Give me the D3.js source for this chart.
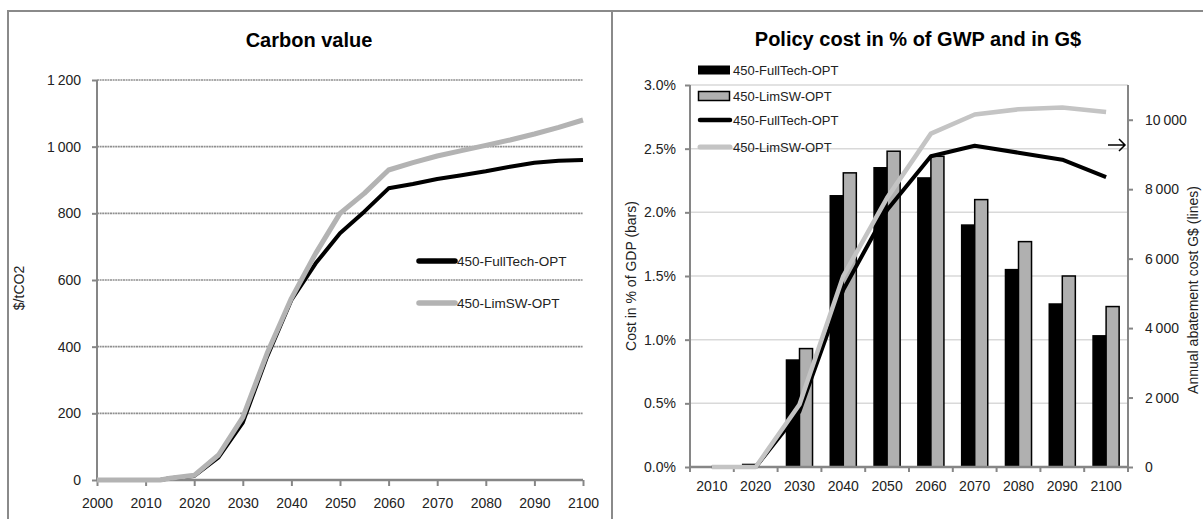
<!DOCTYPE html>
<html><head><meta charset="utf-8">
<script src="https://cdn.jsdelivr.net/npm/d3@7"></script>
<style>
html,body{margin:0;padding:0;background:#fff;}
svg{display:block;font-family:"Liberation Sans",Arial,sans-serif;}
</style></head>
<body>
<svg id="c" width="1203" height="519"></svg>
<script>
// ---------- DATA ----------
// Left panel: Carbon value ($/tCO2)
const cvYears = [2000,2005,2010,2013,2015,2020,2025,2030,2035,2040,2045,2050,2055,2060,2065,2070,2075,2080,2085,2090,2095,2100];
const cvFullTech = [0,0,0,0,5,12,68,172,370,540,650,740,805,875,888,903,914,926,940,952,958,960];
const cvLimSW    = [0,0,0,0,5,14,75,188,380,545,680,800,860,930,952,972,988,1004,1020,1038,1058,1080];
const cvYTicks = [0,200,400,600,800,1000,1200];
const cvXTicks = [2000,2010,2020,2030,2040,2050,2060,2070,2080,2090,2100];

// Right panel: Policy cost
const pcYears = ["2010","2020","2030","2040","2050","2060","2070","2080","2090","2100"];
const pctFullTech = [0,0.02,0.84,2.13,2.35,2.27,1.90,1.55,1.28,1.03];
const pctLimSW    = [0,0,0.93,2.31,2.48,2.44,2.10,1.77,1.50,1.26];
const gdFullTech  = [0,0,1600,5100,7400,8950,9250,9050,8850,8350];
const gdLimSW     = [0,0,1800,5500,7750,9600,10150,10300,10350,10220];
const pctTicks = [0,0.5,1.0,1.5,2.0,2.5,3.0];
const gdTicks = [0,2000,4000,6000,8000,10000];

const seriesNames = ["450-FullTech-OPT","450-LimSW-OPT"];

// ---------- HELPERS ----------
const svg = d3.select("#c");
const fmtThousands = v => { const s = String(v); return s.length > 3 ? s.slice(0, s.length-3) + "\u2009" + s.slice(-3) : s; };
const axisGray = "#868686";
const BLACK = "#000";
const GRAY_L = "#b3b3b3";
const GRAY_R = "#c4c4c4";
const BAR_GRAY = "#b0b0b0";

// Panel borders
svg.append("path").attr("d","M8,519 V11 H1203").attr("fill","none").attr("stroke","#8a8a8a").attr("stroke-width",2);
svg.append("line").attr("x1",612).attr("x2",612).attr("y1",11).attr("y2",519).attr("stroke","#8a8a8a").attr("stroke-width",2);

// ---------- LEFT PANEL ----------
{
  const x = d3.scaleLinear().domain([2000,2100]).range([97,583]);
  const y = d3.scaleLinear().domain([0,1200]).range([480,80]);
  const g = svg.append("g");

  g.append("text").attr("x",309).attr("y",47).attr("text-anchor","middle")
    .attr("font-size",20).attr("font-weight","bold").text("Carbon value");

  // gridlines
  g.selectAll("line.grid").data(cvYTicks.filter(d=>d>0)).join("line")
    .attr("x1",x(2000)).attr("x2",x(2100)).attr("y1",d=>y(d)).attr("y2",d=>y(d))
    .attr("stroke","#8f8f8f").attr("stroke-width",1.6).attr("stroke-dasharray","2,0.6");

  // y axis
  const ya = g.append("g").attr("transform",`translate(${x(2000)},0)`)
    .call(d3.axisLeft(y).tickValues(cvYTicks).tickSize(5).tickPadding(11).tickFormat(fmtThousands));
  ya.select(".domain").attr("stroke",axisGray).attr("stroke-width",2).attr("d",`M0,${y(0)}V${y(1200)}`);
  ya.selectAll(".tick line").attr("stroke",axisGray).attr("stroke-width",2);
  ya.selectAll("text").attr("font-size",14).attr("fill","#222").attr("font-family","Liberation Sans, Arial");

  // x axis
  const xa = g.append("g").attr("transform",`translate(0,${y(0)})`)
    .call(d3.axisBottom(x).tickValues(cvXTicks).tickSize(6).tickPadding(12).tickFormat(d3.format("d")));
  xa.select(".domain").attr("stroke",axisGray).attr("stroke-width",2.5).attr("d",`M${x(2000)},0H${x(2100)}`);
  xa.selectAll(".tick line").attr("stroke",axisGray).attr("stroke-width",2);
  xa.selectAll("text").attr("font-size",14).attr("fill","#222").attr("font-family","Liberation Sans, Arial");

  g.append("text").attr("transform","translate(24,288) rotate(-90)").attr("text-anchor","middle")
    .attr("font-size",14).attr("fill","#222").text("$/tCO2");

  const line = d3.line().x((d,i)=>x(cvYears[i])).y(d=>y(d)).curve(d3.curveLinear);
  g.append("path").attr("d",line(cvFullTech)).attr("fill","none").attr("stroke",BLACK).attr("stroke-width",4).attr("stroke-linejoin","round");
  g.append("path").attr("d",line(cvLimSW)).attr("fill","none").attr("stroke",GRAY_L).attr("stroke-width",5).attr("stroke-linejoin","round");

  // legend
  const lg = g.append("g");
  const ly = [261, 303];
  [BLACK, GRAY_L].forEach((c,i)=>{
    lg.append("line").attr("x1",419).attr("x2",455).attr("y1",ly[i]).attr("y2",ly[i]).attr("stroke",c).attr("stroke-width",5.5).attr("stroke-linecap","round");
    lg.append("text").attr("x",457).attr("y",ly[i]+5).attr("font-size",13.5).attr("fill","#222").text(seriesNames[i]);
  });
}

// ---------- RIGHT PANEL ----------
{
  const x = d3.scaleBand().domain(pcYears).range([690,1128]).padding(0);
  const yL = d3.scaleLinear().domain([0,3.0]).range([467,85]);
  const yR = d3.scaleLinear().domain([0,11000]).range([467,85]);
  const inner = d3.scaleBand().domain([0,1]).range([0,x.bandwidth()]).paddingInner(0).paddingOuter(0.68);
  const g = svg.append("g");

  g.append("text").attr("x",918).attr("y",46).attr("text-anchor","middle")
    .attr("font-size",20).attr("font-weight","bold").text("Policy cost in % of GWP and in G$");

  // gridlines
  g.selectAll("line.grid").data(pctTicks.filter(d=>d>0)).join("line")
    .attr("x1",690).attr("x2",1128).attr("y1",d=>yL(d)).attr("y2",d=>yL(d))
    .attr("stroke","#d9d9d9").attr("stroke-width",1.5);

  // bars
  const bars = g.append("g");
  [pctFullTech, pctLimSW].forEach((arr,s)=>{
    bars.selectAll(null).data(arr).join("rect")
      .attr("x",(d,i)=>x(pcYears[i]) + inner(s))
      .attr("width",inner.bandwidth())
      .attr("y",d=>yL(d))
      .attr("height",d=>Math.max(0, yL(0)-yL(d)))
      .attr("fill", s===0 ? BLACK : BAR_GRAY)
      .attr("stroke", BLACK).attr("stroke-width", d=> d>0 ? 1.5 : 0);
  });

  // left axis
  const ya = g.append("g").attr("transform","translate(690,0)")
    .call(d3.axisLeft(yL).tickValues(pctTicks).tickSize(5).tickPadding(9).tickFormat(d=>d.toFixed(1)+"%"));
  ya.select(".domain").attr("stroke",axisGray).attr("stroke-width",2).attr("d",`M0,${yL(0)}V${yL(3)}`);
  ya.selectAll(".tick line").attr("stroke",axisGray).attr("stroke-width",2);
  ya.selectAll("text").attr("font-size",14).attr("fill","#222").attr("font-family","Liberation Sans, Arial");

  // right axis
  const yb = g.append("g").attr("transform","translate(1128,0)")
    .call(d3.axisRight(yR).tickValues(gdTicks).tickSize(5).tickPadding(12).tickFormat(fmtThousands));
  yb.select(".domain").attr("stroke",axisGray).attr("stroke-width",2).attr("d",`M0,${yR(0)}V${yR(11000)}`);
  yb.selectAll(".tick line").attr("stroke",axisGray).attr("stroke-width",2);
  yb.selectAll("text").attr("font-size",14).attr("fill","#222").attr("font-family","Liberation Sans, Arial");

  // x axis
  const xa = g.append("g").attr("transform",`translate(0,${yL(0)})`)
    .call(d3.axisBottom(x).tickSize(0).tickPadding(14));
  xa.select(".domain").attr("stroke",axisGray).attr("stroke-width",2.5).attr("d","M690,0H1128");
  xa.selectAll("text").attr("font-size",14).attr("fill","#222").attr("font-family","Liberation Sans, Arial");
  xa.selectAll("line.bt").data(pcYears.concat(["end"])).join("line")
    .attr("x1",(d,i)=> i<pcYears.length ? x(d) : 1128).attr("x2",(d,i)=> i<pcYears.length ? x(d) : 1128)
    .attr("y1",0).attr("y2",5).attr("stroke",axisGray).attr("stroke-width",2);

  // lines
  const line = d3.line().x((d,i)=>x(pcYears[i]) + x.bandwidth()/2).y(d=>yR(d));
  g.append("path").attr("d",line(gdFullTech)).attr("fill","none").attr("stroke",BLACK).attr("stroke-width",4).attr("stroke-linejoin","round");
  g.append("path").attr("d",line(gdLimSW)).attr("fill","none").attr("stroke",GRAY_R).attr("stroke-width",4.5).attr("stroke-linejoin","round");

  // axis titles
  g.append("text").attr("transform","translate(636,276) rotate(-90)").attr("text-anchor","middle")
    .attr("font-size",14).attr("fill","#222").text("Cost in % of GDP (bars)");
  g.append("text").attr("transform","translate(1198,290) rotate(-90)").attr("text-anchor","middle")
    .attr("font-size",14).attr("fill","#222").text("Annual abatement cost G$ (lines)");

  // arrow
  g.append("path").attr("d","M1108,145H1125M1119,139L1125,145L1119,151")
    .attr("fill","none").attr("stroke","#000").attr("stroke-width",1.5);

  // legend
  const lg = g.append("g");
  const ly = [70, 96, 120, 147];
  lg.append("rect").attr("x",698).attr("y",ly[0]-4.5).attr("width",32).attr("height",9).attr("fill",BLACK);
  lg.append("rect").attr("x",698.5).attr("y",ly[1]-4.5).attr("width",31).attr("height",9).attr("fill",BAR_GRAY).attr("stroke",BLACK).attr("stroke-width",1.5);
  lg.append("line").attr("x1",700).attr("x2",730).attr("y1",ly[2]).attr("y2",ly[2]).attr("stroke",BLACK).attr("stroke-width",4.5).attr("stroke-linecap","round");
  lg.append("line").attr("x1",700).attr("x2",730).attr("y1",ly[3]).attr("y2",ly[3]).attr("stroke",GRAY_R).attr("stroke-width",5).attr("stroke-linecap","round");
  [0,1,0,1].forEach((s,i)=>{
    lg.append("text").attr("x",733).attr("y",ly[i]+5).attr("font-size",13).attr("fill","#222").text(seriesNames[s]);
  });
}
</script>
</body></html>
